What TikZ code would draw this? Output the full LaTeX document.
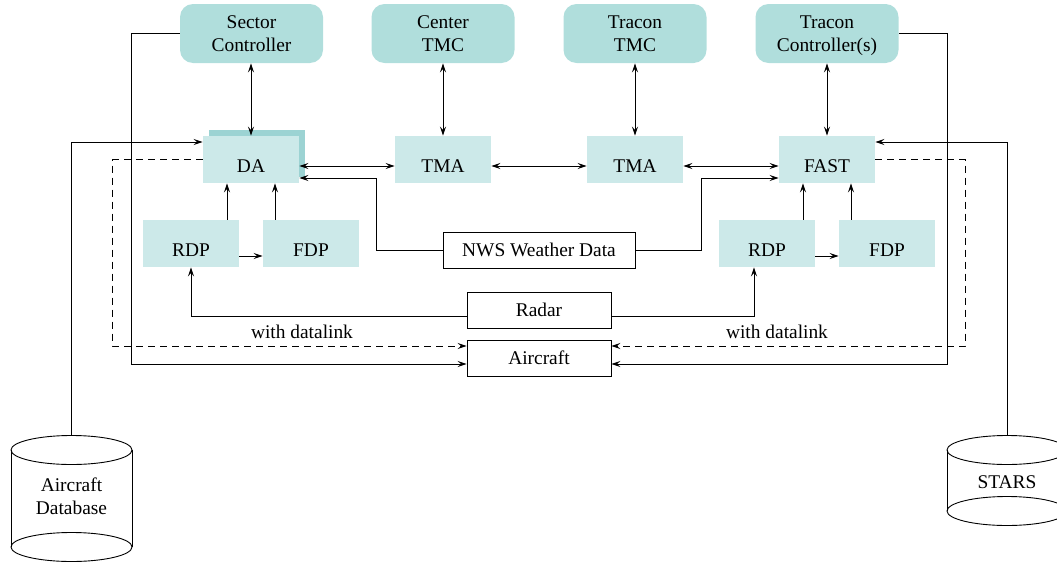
\documentclass[tikz,border=0pt]{standalone}
\usepackage{fontspec}
\setmainfont{Liberation Serif}
\usetikzlibrary{arrows.meta}
\definecolor{ctrlfill}{RGB}{176,222,220}
\definecolor{procfill}{RGB}{204,233,233}
\definecolor{shadefill}{RGB}{156,211,211}
\begin{document}
\begin{tikzpicture}[x=1pt,y=-1pt,
  font=\fontsize{19.4}{23}\selectfont,
  line width=0.9pt,
  >={Stealth[length=9pt,width=6pt,inset=3.5pt]},
  ctrl/.style={rounded corners=13pt,fill=ctrlfill,minimum width=143pt,minimum height=59pt,
    inner sep=0pt,align=center},
  proc/.style={fill=procfill,minimum width=96pt,minimum height=47pt,inner sep=0pt,
    text height=26pt,text depth=0pt},
  plain/.style={draw,fill=white,minimum height=36pt,inner sep=0pt},
  dlink/.style={dash pattern=on 7pt off 5pt}]
\useasboundingbox (0,0) rectangle (1057,562);
\clip (0,0) rectangle (1057,562);

% controllers and traffic management centres
\node[ctrl] (sc) at (251.5,33.5) {Sector\\Controller};
\node[ctrl] (ctmc) at (443,33.5) {Center\\TMC};
\node[ctrl] (ttmc) at (635,33.5) {Tracon\\TMC};
\node[ctrl] (tc) at (827,33.5) {Tracon\\Controller\smash{(s)}};

% processing boxes
\node[fill=shadefill,minimum width=96pt,minimum height=47pt,inner sep=0pt] (dashade) at (257,153.5) {};
\node[proc] (da) at (251,159.5) {DA};
\node[proc] (tma1) at (443,159.5) {TMA};
\node[proc] (tma2) at (635,159.5) {TMA};
\node[proc] (fast) at (827,159.5) {FAST};
\node[proc] (rdpl) at (191,243.5) {RDP};
\node[proc] (fdpl) at (311,243.5) {FDP};
\node[proc] (rdpr) at (767,243.5) {RDP};
\node[proc] (fdpr) at (887,243.5) {FDP};

% data sources
\node[plain,minimum width=192pt] (nws) at (539,250) {NWS Weather Data};
\node[plain,minimum width=144pt] (radar) at (539,310) {Radar};
\node[plain,minimum width=144pt] (ac) at (539,358) {Aircraft};

% databases
\draw (11,450) -- (11,547) (132,450) -- (132,547);
\draw (71.5,450) ellipse [x radius=60.5pt,y radius=14.5pt];
\draw (71.5,547) ellipse [x radius=60.5pt,y radius=14.5pt];
\coordinate (adbtop) at (71.5,435.5);
\node[align=center] (adb) at (71.5,496) {Aircraft\\Database};

\draw (947,450) -- (947,511) (1067,450) -- (1067,511);
\draw (1007,450) ellipse [x radius=60pt,y radius=14.5pt];
\draw (1007,511) ellipse [x radius=60pt,y radius=14.5pt];
\coordinate (starstop) at (1007,435.5);
\node (stars) at (1007,482) {STARS};

% vertical links controllers <-> tools
\draw[<->] (sc.south -| da.north) -- (da.north);
\draw[<->] (ctmc.south) -- (tma1.north);
\draw[<->] (ttmc.south) -- (tma2.north);
\draw[<->] (tc.south) -- (fast.north);

% horizontal tool links
\draw[<->] ([yshift=-6.5pt]da.east) -- ([yshift=-6.5pt]tma1.west);
\draw[<->] ([yshift=-6.5pt]tma1.east) -- ([yshift=-6.5pt]tma2.west);
\draw[<->] ([yshift=-6.5pt]tma2.east) -- ([yshift=-6.5pt]fast.west);

% weather data
\draw[->] (nws.west) -- ++(-66,0) |- ([yshift=-18.5pt]da.east);
\draw[->] (nws.east) -- ++(66,0) |- ([yshift=-18.5pt]fast.west);

% radar and flight data processing
\draw[->] ([yshift=-12.5pt]rdpl.east) -- ([yshift=-12.5pt]fdpl.west);
\draw[->] ([yshift=-12.5pt]rdpr.east) -- ([yshift=-12.5pt]fdpr.west);
\draw[->] ([xshift=36pt]rdpl.north) -- ([xshift=36pt]rdpl.north |- da.south);
\draw[->] ([xshift=-36pt]fdpl.north) -- ([xshift=-36pt]fdpl.north |- da.south);
\draw[->] ([xshift=36pt]rdpr.north) -- ([xshift=36pt]rdpr.north |- fast.south);
\draw[->] ([xshift=-36pt]fdpr.north) -- ([xshift=-36pt]fdpr.north |- fast.south);
\draw[->] ([yshift=-6pt]radar.west) -| (rdpl.south);
\draw[->] ([yshift=-6pt]radar.east) -| ([xshift=-13pt]rdpr.south);

% links to aircraft
\draw[dlink,->] (da.west) -- ++(-90,0) |- ([yshift=12pt]ac.west);
\draw[dlink,->] (fast.east) -- ++(90,0) |- ([yshift=12pt]ac.east);
\draw[->] (sc.west) -- ++(-48,0) |- ([yshift=-6pt]ac.west);
\draw[->] (tc.east) -- ++(48.5,0) |- ([yshift=-6pt]ac.east);
\node (dl1) at (302,332) {with datalink};
\node (dl2) at (777,332) {with datalink};

% database feeds
\draw[->] (adbtop) |- ([yshift=17.5pt]da.west);
\draw[->] (starstop) |- ([yshift=17.5pt]fast.east);
\end{tikzpicture}
\end{document}
